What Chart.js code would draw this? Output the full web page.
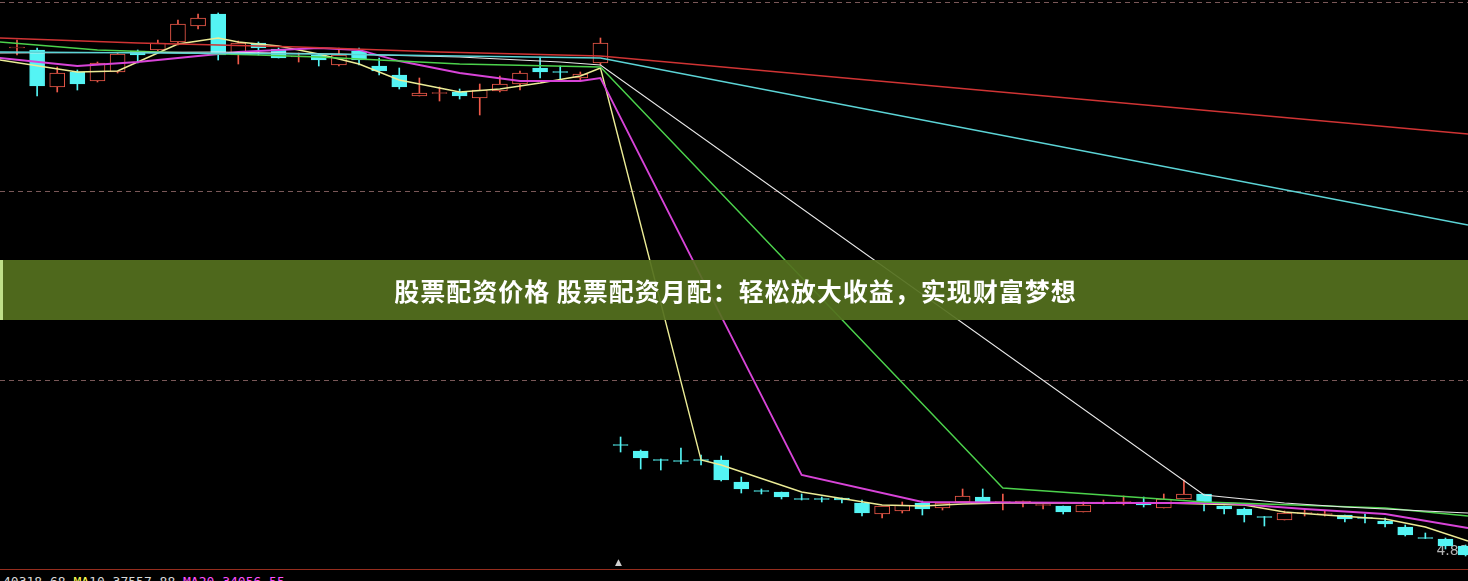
<!DOCTYPE html>
<html>
<head>
<meta charset="utf-8">
<script src="https://cdn.jsdelivr.net/npm/chart.js@4.4.1/dist/chart.umd.min.js"></script>
<style>
  html, body { margin: 0; padding: 0; background: #000; overflow: hidden; }
  #wrap { position: relative; width: 1468px; height: 581px; background: #000; overflow: hidden; }
  #box { position: absolute; left: 0; top: 0; width: 1468px; height: 572px; }
  #banner {
    position: absolute; left: 0; top: 260px; width: 1465px; height: 60px;
    background: rgba(84, 112, 30, 0.93); border-left: 3px solid #bfe08a;
    color: #fff; font: bold 25px "Noto Sans CJK SC", sans-serif; letter-spacing: 1px;
    display: flex; align-items: center; justify-content: center;
  }
  #legend {
    position: absolute; left: 3px; top: 575px; white-space: pre;
    font: 13px "DejaVu Sans Mono", monospace; line-height: 13px; color: #d8d8d8;
  }
  #mark { position: absolute; left: 615px; top: 557px; font: 9px "DejaVu Sans", sans-serif; color: #cfcfcf; }
</style>
</head>
<body>
<div id="wrap">
  <div id="box"><canvas id="kline"></canvas></div>
  <div id="banner">股票配资价格 股票配资月配：轻松放大收益，实现财富梦想</div>
  <div id="mark">▲</div>
  <div id="legend">40318.68 <span style="color:#ffff50">MA</span>10 37557.88 <span style="color:#ff50ff">MA20 34056.55</span></div>
</div>
<script>
// daily candles, index 0..72 (price drop after index 29 = ex-rights)
const opens = [9.88, 9.86, 9.49, 9.64, 9.55, 9.64, 9.85, 9.86, 9.94, 10.10, 10.22, 9.81, 9.93, 9.87, 9.79,
  9.81, 9.71, 9.85, 9.70, 9.61, 9.40, 9.425, 9.44, 9.38, 9.45, 9.52, 9.68, 9.645, 9.58, 9.73,
  5.915, 5.85, 5.765, 5.755, 5.765, 5.76, 5.54, 5.455, 5.44, 5.375, 5.375, 5.38, 5.33, 5.22, 5.25,
  5.33, 5.28, 5.34, 5.39, 5.335, 5.33, 5.305, 5.30, 5.24, 5.33, 5.335, 5.34, 5.28, 5.37, 5.42,
  5.30, 5.27, 5.195, 5.16, 5.225, 5.215, 5.21, 5.185, 5.15, 5.09, 4.985, 4.97, 4.90]
const closes = [9.89, 9.50, 9.63, 9.52, 9.73, 9.82, 9.81, 9.93, 10.12, 10.18, 9.81, 9.93, 9.88, 9.78, 9.80,
  9.76, 9.81, 9.76, 9.65, 9.49, 9.43, 9.435, 9.40, 9.46, 9.52, 9.63, 9.64, 9.635, 9.62, 9.93,
  5.905, 5.78, 5.755, 5.745, 5.755, 5.56, 5.47, 5.445, 5.39, 5.365, 5.365, 5.36, 5.23, 5.30, 5.31,
  5.27, 5.33, 5.40, 5.34, 5.345, 5.35, 5.315, 5.24, 5.31, 5.34, 5.345, 5.31, 5.37, 5.42, 5.34,
  5.27, 5.21, 5.185, 5.23, 5.235, 5.225, 5.17, 5.175, 5.12, 5.01, 4.975, 4.90, 4.81]
const highs = [9.96, 9.88, 9.69, 9.66, 9.74, 9.83, 9.86, 9.96, 10.16, 10.22, 10.23, 9.95, 9.94, 9.88, 9.83,
  9.82, 9.88, 9.88, 9.78, 9.68, 9.58, 9.49, 9.47, 9.52, 9.60, 9.65, 9.79, 9.70, 9.64, 9.98,
  5.99, 5.86, 5.77, 5.88, 5.81, 5.80, 5.59, 5.47, 5.44, 5.42, 5.39, 5.38, 5.36, 5.30, 5.34,
  5.35, 5.33, 5.47, 5.47, 5.42, 5.35, 5.315, 5.30, 5.34, 5.36, 5.40, 5.39, 5.42, 5.56, 5.42,
  5.30, 5.28, 5.195, 5.25, 5.26, 5.25, 5.21, 5.22, 5.18, 5.11, 5.03, 4.98, 4.91]
const lows = [9.81, 9.40, 9.44, 9.46, 9.54, 9.63, 9.73, 9.85, 9.91, 10.07, 9.76, 9.72, 9.81, 9.78, 9.74,
  9.70, 9.70, 9.71, 9.61, 9.47, 9.40, 9.35, 9.37, 9.21, 9.44, 9.46, 9.58, 9.56, 9.56, 9.71,
  5.84, 5.67, 5.66, 5.72, 5.71, 5.55, 5.43, 5.42, 5.37, 5.36, 5.34, 5.33, 5.20, 5.18, 5.23,
  5.21, 5.26, 5.34, 5.34, 5.26, 5.29, 5.27, 5.22, 5.24, 5.32, 5.31, 5.29, 5.28, 5.37, 5.25,
  5.22, 5.14, 5.10, 5.16, 5.20, 5.20, 5.14, 5.13, 5.09, 5.00, 4.975, 4.87, 4.80]

// moving average lines, [candle index, price] vertices
const maYellow = [[-0.85, 9.76], [3, 9.64], [5, 9.65], [8, 9.92], [10, 9.98], [11, 9.94], [13, 9.90], [15, 9.82],
  [17, 9.72], [19, 9.56], [21, 9.48], [22, 9.44], [24, 9.47], [26, 9.53], [28, 9.60], [29, 9.68],
  [34, 5.76], [35, 5.71], [39, 5.44], [43, 5.31], [45, 5.30], [47, 5.32], [49, 5.33], [57, 5.33],
  [61, 5.31], [63, 5.24], [65, 5.21], [68, 5.17], [70, 5.09], [72.12, 4.95]]
const maMagenta = [[-0.85, 9.78], [3, 9.70], [6, 9.74], [9, 9.80], [11, 9.84], [15, 9.88], [17, 9.86], [19, 9.75],
  [22, 9.63], [25, 9.55], [28, 9.55], [29, 9.58], [39, 5.61], [45, 5.34], [54, 5.33], [60, 5.33],
  [64, 5.27], [68, 5.22], [72.12, 5.08]]
const maGreen = [[-0.85, 9.94], [4, 9.86], [7, 9.84], [12, 9.81], [15, 9.79], [18, 9.76], [22, 9.72], [29, 9.69],
  [49, 5.48], [59, 5.34], [68, 5.28], [72.12, 5.20]]
const maWhite = [[-0.85, 9.83], [10, 9.84], [16, 9.82], [22, 9.79], [27, 9.74], [29, 9.71], [59, 5.41],
  [63, 5.33], [66, 5.29], [71, 5.24], [72.12, 5.23]]
const maCyan = [[-0.85, 9.84], [15, 9.82], [29, 9.78], [72.12, 8.11]]
const maRed = [[-0.85, 9.98], [6, 9.93], [14, 9.89], [21, 9.84], [29, 9.80], [72.12, 9.02]]

const gridValues = [10.34, 8.45, 6.56]
const baseValue = 4.667
const lowLabel = "4.80"

const upColor = "#f05a4a"
const downColor = "#54f4f4"

const idx = opens.map((_, i) => i)
const isUp = idx.map(i => closes[i] >= opens[i])

const toPts = arr => arr.map(p => ({ x: p[0], y: p[1] }))

const gridPlugin = {
  id: "kgrid",
  beforeDatasetsDraw(chart) {
    const { ctx, chartArea, scales } = chart
    const y = scales.y
    ctx.save()
    ctx.lineWidth = 1
    ctx.strokeStyle = "#7a5858"
    ctx.setLineDash([5, 4])
    gridValues.forEach(v => {
      const py = Math.round(y.getPixelForValue(v)) + 0.5
      ctx.beginPath()
      ctx.moveTo(chartArea.left, py)
      ctx.lineTo(chartArea.right, py)
      ctx.stroke()
    })
    ctx.setLineDash([])
    ctx.strokeStyle = "#962d1e"
    const by = Math.round(y.getPixelForValue(baseValue)) + 0.5
    ctx.beginPath()
    ctx.moveTo(chartArea.left, by)
    ctx.lineTo(chartArea.right, by)
    ctx.stroke()
    // lowest price label
    const minLow = Math.min(...lows)
    ctx.fillStyle = "#b4b4b4"
    ctx.font = "14px 'DejaVu Sans'"
    ctx.textBaseline = "middle"
    ctx.fillText(lowLabel, scales.x.getPixelForValue(70.55), y.getPixelForValue(minLow + 0.05))
    ctx.restore()
  }
}

const lineDs = (data, color, width) => ({
  type: "line",
  data: toPts(data),
  borderColor: color,
  borderWidth: width,
  pointRadius: 0,
  tension: 0,
  order: 0
})

new Chart(document.getElementById("kline"), {
  type: "bar",
  data: {
    datasets: [
      lineDs(maRed, "#d03434", 1.6),
      lineDs(maCyan, "#5cd4d6", 1.5),
      lineDs(maWhite, "#e8e8e8", 1.2),
      lineDs(maGreen, "#4cd24c", 1.4),
      lineDs(maMagenta, "#d844d8", 1.8),
      lineDs(maYellow, "#ecec96", 1.4),
      {
        // bodies
        data: idx.map(i => ({ x: i, y: [opens[i], closes[i]] })),
        backgroundColor: idx.map(i => isUp[i] ? "#000" : downColor),
        borderColor: idx.map(i => isUp[i] ? upColor : downColor),
        borderWidth: 1,
        borderSkipped: false,
        barThickness: 15,
        minBarLength: 1,
        grouped: false,
        order: 1
      },
      {
        // wicks
        data: idx.map(i => ({ x: i, y: [lows[i], highs[i]] })),
        backgroundColor: idx.map(i => isUp[i] ? upColor : downColor),
        borderWidth: 0,
        barThickness: 1,
        grouped: false,
        order: 2
      }
    ]
  },
  options: {
    responsive: true,
    maintainAspectRatio: false,
    animation: false,
    layout: { padding: { top: 1, bottom: 1, left: 0, right: 0 } },
    plugins: { legend: { display: false }, tooltip: { enabled: false } },
    scales: {
      x: { type: "linear", display: false, offset: false, min: -0.845, max: 72.12 },
      y: { type: "linear", display: false, min: 4.65, max: 10.35 }
    }
  },
  plugins: [gridPlugin]
})
</script>
</body>
</html>
